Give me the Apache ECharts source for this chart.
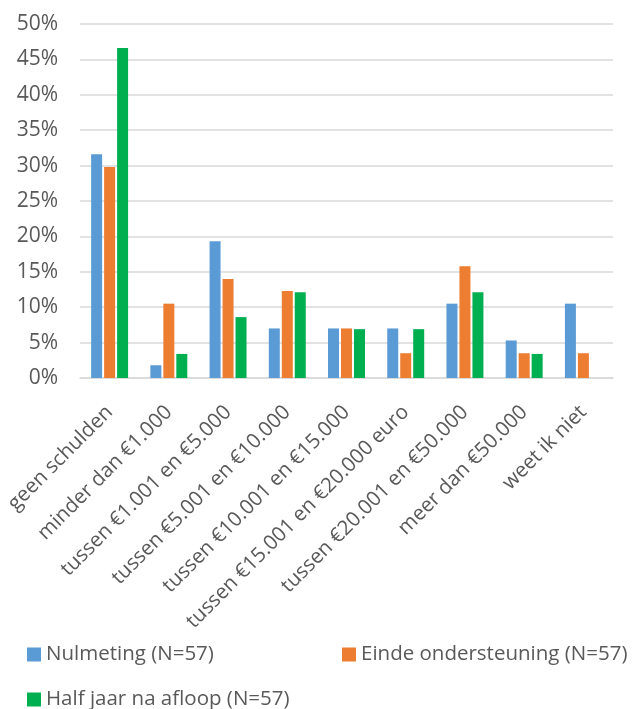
<!DOCTYPE html>
<html>
<head>
<meta charset="utf-8">
<script src="https://cdn.jsdelivr.net/npm/echarts@6/dist/echarts.min.js"></script>
<style>
html,body{margin:0;padding:0;background:#fff;}
#c{width:635px;height:709px;}
</style>
</head>
<body>
<div id="c"></div>
<script>
const categories = [
  "geen schulden",
  "minder dan €1.000",
  "tussen €1.001 en €5.000",
  "tussen €5.001 en €10.000",
  "tussen €10.001 en €15.000",
  "tussen €15.001 en €20.000 euro",
  "tussen €20.001 en €50.000",
  "meer dan €50.000",
  "weet ik niet"
];
const seriesNames = ["Nulmeting (N=57)", "Einde ondersteuning (N=57)", "Half jaar na afloop (N=57)"];
const nulmeting = [31.6, 1.8, 19.3, 7.0, 7.0, 7.0, 10.5, 5.3, 10.5];
const einde = [29.8, 10.5, 14.0, 12.3, 7.0, 3.5, 15.8, 3.5, 3.5];
const halfJaar = [46.6, 3.4, 8.6, 12.1, 6.9, 6.9, 12.1, 3.4, 0];
const yTicks = { min: 0, max: 50, interval: 5 };

const colors = ["#5B9BD5", "#ED7D31", "#00B050"];
const FONT = "Open Sans";
const TXT = "#595959";

const chart = echarts.init(document.getElementById('c'), null, { renderer: 'canvas' });
const values = [nulmeting, einde, halfJaar];

const legendBase = {
  icon: 'rect', itemWidth: 14, itemHeight: 14, itemGap: 6,
  textStyle: { fontFamily: FONT, fontSize: 20.5, color: TXT, padding: [0, 0, 0, 0] },
  selectedMode: false
};

chart.setOption({
  animation: false,
  color: colors,
  grid: { left: 80, right: 22, top: 24, bottom: 331, containLabel: false },
  legend: [
    Object.assign({}, legendBase, { left: 22, top: 639, data: [seriesNames[0]] }),
    Object.assign({}, legendBase, { left: 337, top: 639, data: [seriesNames[1]] }),
    Object.assign({}, legendBase, { left: 22, top: 684, data: [seriesNames[2]] })
  ],
  xAxis: {
    type: 'category',
    data: categories,
    axisLine: { show: true, lineStyle: { color: '#D9D9D9', width: 1.5 } },
    axisTick: { show: false },
    axisLabel: {
      rotate: 45, interval: 0, margin: 31,
      fontFamily: FONT, fontSize: 20.5, color: TXT
    }
  },
  yAxis: {
    type: 'value',
    min: yTicks.min, max: yTicks.max, interval: yTicks.interval,
    axisLine: { show: false },
    axisTick: { show: false },
    splitLine: { lineStyle: { color: '#D9D9D9', width: 1.5 } },
    axisLabel: {
      formatter: '{value}%', margin: 22,
      fontFamily: FONT, fontSize: 21, color: TXT
    }
  },
  series: seriesNames.map((n, i) => ({
    name: n,
    type: 'bar',
    data: values[i],
    barWidth: 11,
    barGap: '18%',
    itemStyle: { color: colors[i] }
  }))
});
</script>
</body>
</html>
